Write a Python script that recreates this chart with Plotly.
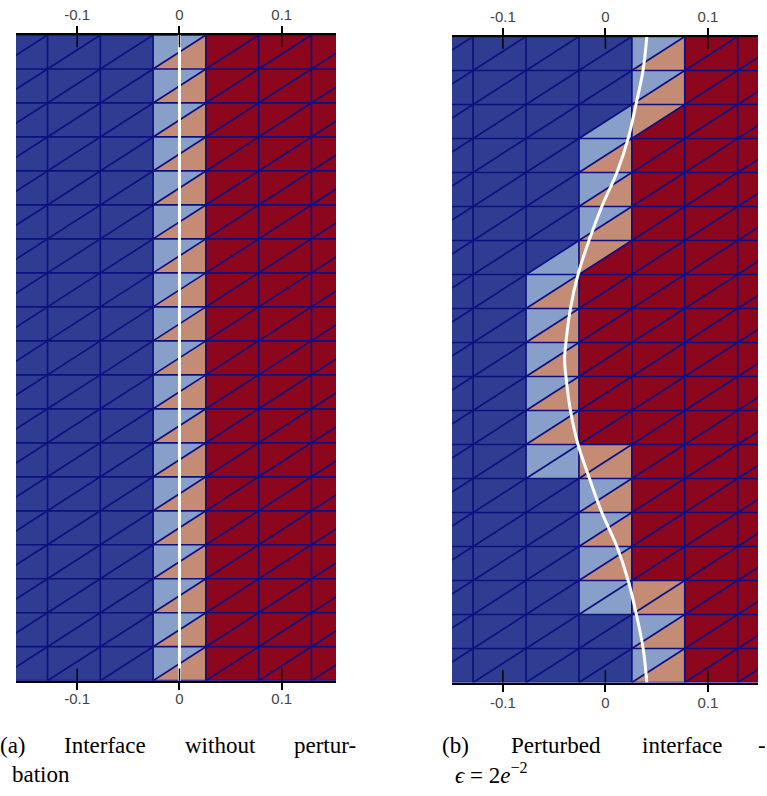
import plotly.graph_objects as go

# ---------------- data ----------------
CELL_W = 0.0516                      # mesh cell width (x units)
COLS = [-3, -2, -1, 0, 1, 2, 3]      # mesh column indices (0 is centred on x=0)
N_ROWS = 19
# per mesh row (top -> bottom), per column: colour of upper-left / lower-right triangle
# B = phase 1, b = cut (phase 1 side), s = cut (phase 2 side), R = phase 2
left_rows = ["BB BB BB bs RR RR RR"] * 19
right_rows = [
    "BB BB BB BB bs RR RR",
    "BB BB BB BB bs RR RR",
    "BB BB BB Bb sR RR RR",
    "BB BB BB bs RR RR RR",
    "BB BB BB bs RR RR RR",
    "BB BB BB bs RR RR RR",
    "BB BB Bb sR RR RR RR",
    "BB BB bs RR RR RR RR",
    "BB BB bs RR RR RR RR",
    "BB BB bs RR RR RR RR",
    "BB BB bs RR RR RR RR",
    "BB BB bs RR RR RR RR",
    "BB BB bb ss RR RR RR",
    "BB BB BB bs RR RR RR",
    "BB BB BB bs RR RR RR",
    "BB BB BB bs RR RR RR",
    "BB BB BB bb ss RR RR",
    "BB BB BB BB bs RR RR",
    "BB BB BB BB bs RR RR",
]
# interface curves (x, y) ; y in mesh-row units, 0 = bottom, 19 = top
left_iface_x = [0.0, 0.0]
left_iface_y = [0, 19]
right_iface_y = [19, 18, 17, 16, 15, 14, 13, 12, 11, 10, 9.5, 9, 8, 7, 6, 5, 4, 3, 2, 1, 0]
right_iface_x = [0.0404, 0.0367, 0.0298, 0.0222, 0.0112, -0.0035, -0.0160, -0.0267,
                 -0.0341, -0.0385, -0.0398, -0.0385, -0.0341, -0.0267, -0.0155,
                 -0.0035, 0.0112, 0.0222, 0.0302, 0.0368, 0.0404]
tick_vals = [-0.1, 0, 0.1]
tick_text = ["-0.1", "0", "0.1"]
left_range = [-0.1598, 0.1530]
right_range = [-0.1496, 0.1488]

COLORS = {"B": "#2e3d91", "b": "#88a0c9", "s": "#c48c74", "R": "#8c061e"}
MESH_COLOR = "rgb(14,16,128)"

fig = go.Figure()


def add_panel(rows, ix, iy, xa, ya, xa_top):
    groups = {k: ([], []) for k in COLORS}
    for r, rowstr in enumerate(rows):
        yb, yt = N_ROWS - 1 - r, N_ROWS - r
        for j, code in zip(COLS, rowstr.split()):
            x0, x1 = (j - 0.5) * CELL_W, (j + 0.5) * CELL_W
            up = [(x0, yb), (x0, yt), (x1, yt), (x0, yb)]
            lo = [(x0, yb), (x1, yb), (x1, yt), (x0, yb)]
            for tri, c in ((up, code[0]), (lo, code[1])):
                gx, gy = groups[c]
                gx.extend([p[0] for p in tri] + [None])
                gy.extend([p[1] for p in tri] + [None])
    for c, (gx, gy) in groups.items():
        if gx:
            fig.add_trace(go.Scatter(x=gx, y=gy, fill="toself", fillcolor=COLORS[c],
                                     mode="lines", line=dict(width=0, color=COLORS[c]),
                                     hoverinfo="skip", xaxis=xa, yaxis=ya))
    # mesh lines
    mx, my = [], []
    xl, xr = (COLS[0] - 0.5) * CELL_W, (COLS[-1] + 0.5) * CELL_W
    for j in COLS + [COLS[-1] + 1]:
        xv = (j - 0.5) * CELL_W
        mx += [xv, xv, None]
        my += [0, N_ROWS, None]
    for k in range(N_ROWS + 1):
        mx += [xl, xr, None]
        my += [k, k, None]
    for r in range(N_ROWS):
        for j in COLS:
            mx += [(j - 0.5) * CELL_W, (j + 0.5) * CELL_W, None]
            my += [r, r + 1, None]
    fig.add_trace(go.Scatter(x=mx, y=my, mode="lines",
                             line=dict(color=MESH_COLOR, width=1.7),
                             hoverinfo="skip", xaxis=xa, yaxis=ya))
    fig.add_trace(go.Scatter(x=ix, y=iy, mode="lines", line=dict(color="white", width=3, shape="spline"),
                             hoverinfo="skip", xaxis=xa, yaxis=ya))
    # helper so the top axis is bound
    fig.add_trace(go.Scatter(x=ix, y=iy, mode="lines", opacity=0, line=dict(width=0),
                             hoverinfo="skip", xaxis=xa_top, yaxis=ya))


add_panel(left_rows, left_iface_x, left_iface_y, "x", "y", "x3")
add_panel(right_rows, right_iface_x, right_iface_y, "x2", "y2", "x4")

tickfont = dict(family="Liberation Sans, Arial", size=15, color="#444444")
common_x = dict(showline=True, linecolor="black", linewidth=2, ticks="outside", ticklen=7,
                tickwidth=1.5, tickcolor="black", tickvals=tick_vals, ticktext=tick_text,
                tickfont=tickfont, showgrid=False, zeroline=False, fixedrange=True)

fig.update_layout(
    width=767, height=796, margin=dict(l=0, r=0, t=0, b=0),
    paper_bgcolor="white", plot_bgcolor="white", showlegend=False,
    xaxis=dict(domain=[16 / 767, 336 / 767], range=left_range, anchor="y", side="bottom",
               ticklabelstandoff=-4, **common_x),
    xaxis3=dict(range=left_range, anchor="y", overlaying="x", side="top", **common_x),
    yaxis=dict(domain=[1 - 680.7 / 796, 1 - 35 / 796], range=[0, N_ROWS], visible=False, fixedrange=True),
    xaxis2=dict(domain=[452 / 767, 758 / 767], range=right_range, anchor="y2", side="bottom",
                ticklabelstandoff=-2, **common_x),
    xaxis4=dict(range=right_range, anchor="y2", overlaying="x2", side="top", **common_x),
    yaxis2=dict(domain=[1 - 682.5 / 796, 1 - 36.5 / 796], range=[0, N_ROWS], visible=False, fixedrange=True),
)

# inward parts of tick marks
for xa, ya in (("x", "y"), ("x2", "y2")):
    for tv in tick_vals:
        for y0, y1 in ((0, 0.019), (0.981, 1)):
            fig.add_shape(type="line", xref=xa, yref=ya + " domain", x0=tv, x1=tv, y0=y0, y1=y1,
                          line=dict(color="black", width=1.5))

# captions (justified words)
cap_font = dict(family="Liberation Serif, Times New Roman, serif", size=23, color="black")
captions = [
    ("(a)", 13, 745), ("Interface", 105, 745), ("without", 220, 745), ("pertur-", 325, 745),
    ("bation", 41, 774),
    ("(b)", 456, 745), ("Perturbed", 556, 745), ("interface", 682, 745), ("-", 762, 745),
    ("<i>ϵ</i> = 2<i>e</i><sup>−2</sup>", 491, 773),
]
for txt, px, py in captions:
    fig.add_annotation(text=txt, xref="paper", yref="paper", x=px / 767, y=1 - py / 796,
                       xanchor="center", yanchor="middle", showarrow=False, font=cap_font)

fig.write_html("out.html", config={"displayModeBar": False},
               post_script="document.body.style.margin='0';document.body.style.overflow='hidden';")
